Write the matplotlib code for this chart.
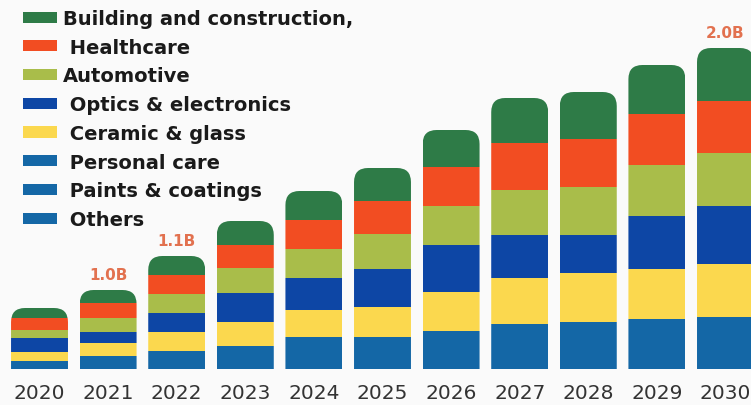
import matplotlib.pyplot as plt
from matplotlib.patches import FancyBboxPatch, Patch

years = ["2020", "2021", "2022", "2023", "2024", "2025",
         "2026", "2027", "2028", "2029", "2030"]

# segment heights (relative units, bottom to top)
blue_group = [8, 13, 18, 23, 32, 32, 38, 45, 47, 50, 52]   # personal care / paints / others
ceramic_glass = [9, 13, 19, 24, 27, 30, 39, 46, 49, 50, 53]
optics_electronics = [14, 11, 19, 29, 32, 38, 47, 43, 38, 53, 58]
automotive = [8, 14, 19, 25, 29, 35, 39, 45, 48, 51, 53]
healthcare = [12, 15, 19, 23, 29, 33, 39, 47, 48, 51, 52]
building_construction = [10, 13, 19, 24, 29, 33, 37, 45, 47, 49, 53]

total_labels = {"2021": "1.0B", "2022": "1.1B", "2030": "2.0B"}

legend_labels = ["Building and construction,", " Healthcare", "Automotive",
                 " Optics & electronics", " Ceramic & glass", " Personal care",
                 " Paints & coatings", " Others"]

c_green = "#2e7b47"
c_orange = "#f24d22"
c_olive = "#a9bd4a"
c_dblue = "#0d46a5"
c_yellow = "#fbd84e"
c_blue = "#1467a6"

stack = [blue_group, ceramic_glass, optics_electronics, automotive, healthcare, building_construction]
stack_colors = [c_blue, c_yellow, c_dblue, c_olive, c_orange, c_green]
legend_colors = [c_green, c_orange, c_olive, c_dblue, c_yellow, c_blue, c_blue, c_blue]

fig = plt.figure(figsize=(7.51, 4.06), dpi=100, facecolor="#fafafa")
ax = fig.add_axes([0, 36 / 406, 1, 370 / 406])
ax.set_facecolor("#fafafa")
ax.set_xlim(-0.576, 10.372)
ax.set_ylim(0, 370)

x = list(range(len(years)))
width = 0.83
px_per_x = 751 / (10.372 + 0.576)
radius = 14 / px_per_x

bottoms = [0] * len(years)
containers = []
for vals, col in zip(stack, stack_colors):
    bars = ax.bar(x, vals, width=width, bottom=bottoms, color=col, linewidth=0)
    containers.append(bars)
    bottoms = [b + v for b, v in zip(bottoms, vals)]

# rounded tops: clip each column with a rounded box
for i, total in enumerate(bottoms):
    clip = FancyBboxPatch((i - width / 2, -30), width, total + 30,
                          boxstyle=f"round,pad=0,rounding_size={radius}",
                          mutation_aspect=px_per_x, transform=ax.transData)
    for bars in containers:
        bars[i].set_clip_path(clip)

for yr, txt in total_labels.items():
    i = years.index(yr)
    ax.text(i, bottoms[i] + 8, txt, ha="center", va="bottom", fontsize=11,
            fontweight="bold", color="#e2714f")

ax.set_xticks(x, years)
ax.tick_params(axis="x", length=0, pad=10, labelsize=14.5, labelcolor="#333333")
ax.set_yticks([])
for s in ax.spines.values():
    s.set_visible(False)

handles = [Patch(facecolor=c, edgecolor="none") for c in legend_colors]
fig.legend(handles, legend_labels, loc="upper left", bbox_to_anchor=(23 / 751, 1 - 10 / 406),
           frameon=False, borderpad=0, borderaxespad=0,
           prop={"weight": "bold", "size": 14}, labelcolor="#1a1a1a",
           handlelength=1.75, handleheight=0.5, handletextpad=0.3, labelspacing=0.5)

fig.savefig("out.png", dpi=100, facecolor=fig.get_facecolor())
